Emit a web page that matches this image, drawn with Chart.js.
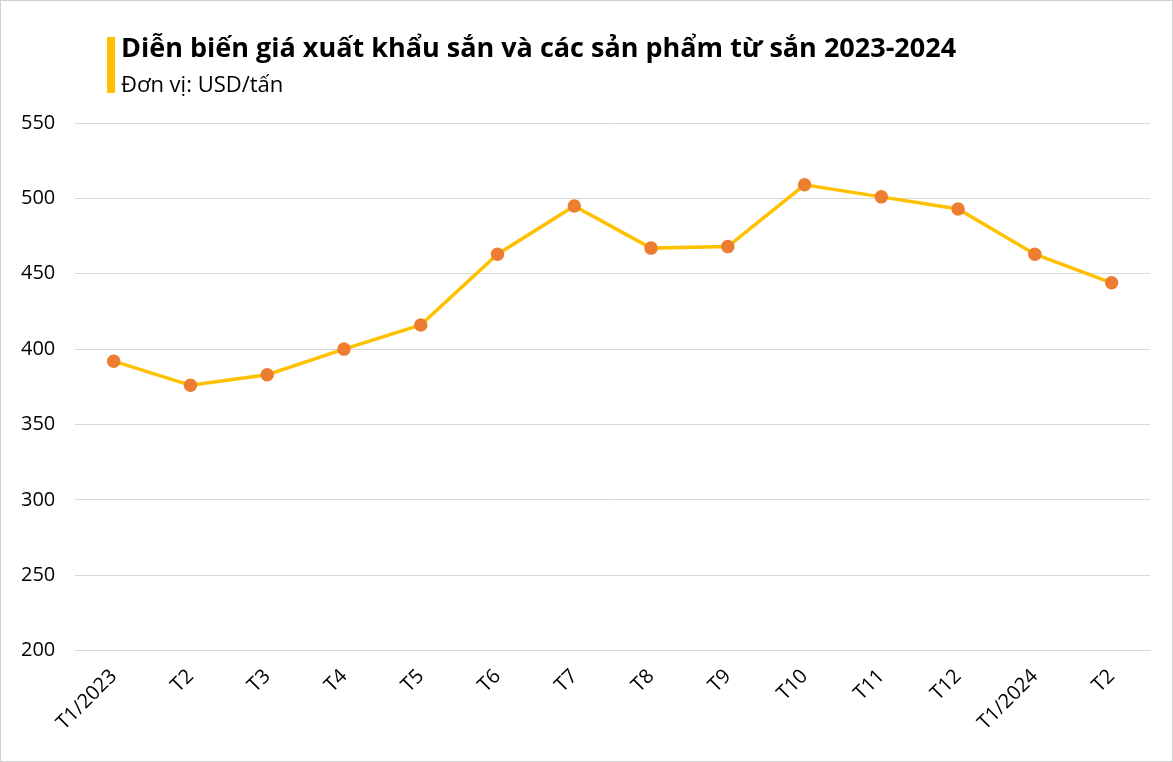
<!DOCTYPE html>
<html><head><meta charset="utf-8">
<script src="https://cdn.jsdelivr.net/npm/chart.js@4/dist/chart.umd.min.js"></script>
<style>html,body{margin:0;padding:0;background:#fff}#w{width:1171px;height:760px;border:1px solid #d0d0d0;position:relative}</style>
</head><body><div id="w"><canvas id="c"></canvas></div>
<script>
const categories=["T1/2023","T2","T3","T4","T5","T6","T7","T8","T9","T10","T11","T12","T1/2024","T2"];
const prices=[392,376,383,400,416,463,495,467,468,509,501,493,463,444];
const yTicks=[200,250,300,350,400,450,500,550];
const titleText="Diễn biến giá xuất khẩu sắn và các sản phẩm từ sắn 2023-2024";
const subtitleText="Đơn vị: USD/tấn";
const titlePlugin={id:'t',afterDraw(ch){const x=ch.ctx;x.save();x.fillStyle='#FFC000';x.fillRect(106,36,8,56);
x.fillStyle='#000';x.textBaseline='alphabetic';x.font='bold 27px "Open Sans", sans-serif';x.fillText(titleText,120,56);
x.font='22px "Open Sans", sans-serif';x.fillText(subtitleText,120,91);x.restore();}};
new Chart(document.getElementById('c'),{type:'line',
data:{labels:categories,datasets:[{data:prices,borderColor:'#FFC000',borderWidth:3.5,pointBackgroundColor:'#ED7D31',pointBorderColor:'#ED7D31',pointRadius:5,tension:0}]},
options:{responsive:true,maintainAspectRatio:false,animation:false,
layout:{padding:{top:122,right:22,left:0,bottom:20}},
plugins:{legend:{display:false},tooltip:{enabled:false}},
scales:{y:{min:200,max:550,afterBuildTicks(s){s.ticks=yTicks.map(v=>({value:v}));},
grid:{color:'#d9d9d9',drawTicks:false},border:{display:false},
ticks:{padding:20,color:'#000',font:{size:20,family:'"Open Sans", sans-serif'}}},
x:{offset:true,grid:{display:false},border:{color:'#d9d9d9'},
ticks:{maxRotation:45,minRotation:45,padding:6,color:'#000',font:{size:20,family:'"Open Sans", sans-serif'}}}}},
plugins:[titlePlugin]});
</script></body></html>
